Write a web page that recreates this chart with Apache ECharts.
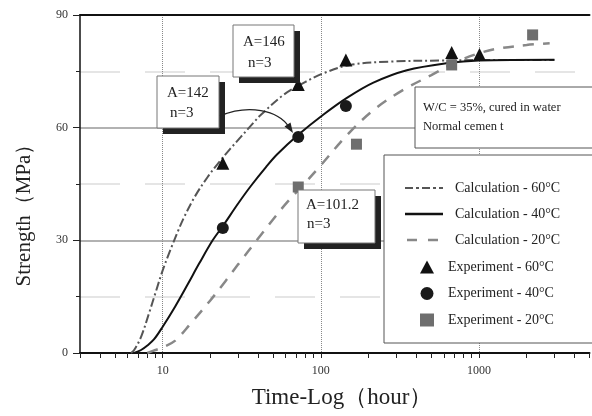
<!DOCTYPE html>
<html>
<head>
<meta charset="utf-8">
<script src="https://cdn.jsdelivr.net/npm/echarts@6/dist/echarts.min.js"></script>
<style>html,body{margin:0;padding:0;background:#fff}#c{width:592px;height:416px}</style>
</head>
<body>
<div id="c"></div>
<script>
// ---- data (time in hours, strength in MPa) ----
const calc60 = [[6.3,0],[6.6,0.8],[7.3,4.3],[8.2,10.6],[9,16],[10,22],[11.2,27.5],[12.4,32.1],[13.6,36],[16,41.7],[19.2,46.8],[23,51.1],[26.8,54.4],[31,57.4],[37.5,61.3],[41.5,63.3],[58,68.7],[80,72.2],[104,74.5],[153,76.7],[275,77.6],[630,77.9],[1000,78],[3000,78]];
const calc40 = [[6.6,0],[7.3,0.8],[8,2],[8.8,3.6],[10,7],[12,12.4],[14.4,18.3],[17,23.8],[20.7,30],[24,33.8],[30,39.8],[36,44.4],[45,49.5],[53,52.9],[72,58.1],[104,63.5],[147,68],[215,72],[350,75.3],[630,77.2],[1000,77.9],[3000,78.1]];
const calc20 = [[8,0],[9,0.8],[10,1.5],[12,3.3],[15,7.8],[20,14],[25,19.2],[30,23.6],[40,30.4],[50,35.6],[60,39.7],[80,45.4],[100,50],[150,58.5],[220,65],[330,70],[500,74],[720,77.5],[1000,79.8],[1300,81],[2000,82],[2800,82.5]];
const exp60 = [[24,50.5],[72,71.5],[144,78],[672,80],[1008,79.5]];
const exp40 = [[24,33.3],[72,57.5],[144,65.8]];
const exp20 = [[72,44.2],[168,55.6],[672,76.7],[2184,84.7]];
const xLabels = [10,100,1000];
const xTicks = [3,4,5,6,7,8,9,10,20,30,40,50,60,70,80,90,100,200,300,400,500,600,700,800,900,1000,2000,3000,4000,5000];
const calcNames = ['Calculation - 60°C','Calculation - 40°C','Calculation - 20°C'];
const expNames = ['Experiment - 60°C','Experiment - 40°C','Experiment - 20°C'];

const FONT = 'Liberation Serif';
const chart = echarts.init(document.getElementById('c'));

function box(x, y, w, h, l1, l2, tx, ty1, ty2, tx2) {
  return [
    {type:'rect', z:50, shape:{x:x+6, y:y+6, width:w, height:h}, style:{fill:'#222'}},
    {type:'rect', z:51, shape:{x:x, y:y, width:w, height:h}, style:{fill:'#fff', stroke:'#777', lineWidth:1}},
    {type:'text', z:52, x:tx, y:ty1, style:{text:l1, font:'15px "'+FONT+'"', fill:'#222', verticalAlign:'middle'}},
    {type:'text', z:52, x:tx2, y:ty2, style:{text:l2, font:'15px "'+FONT+'"', fill:'#222', verticalAlign:'middle'}}
  ];
}

const graphics = [].concat(
  box(233,25,61,52,'A=146','n=3',243,42,63,248),
  box(157,76,62,52,'A=142','n=3',167,93,113,170),
  box(298,190,77,53,'A=101.2','n=3',306,205,224,307),
  [
    {type:'bezierCurve', z:53, shape:{x1:220,y1:116,cpx1:248,cpy1:104,cpx2:278,cpy2:110,x2:289,y2:127}, style:{stroke:'#222', lineWidth:1.2, fill:null}},
    {type:'polygon', z:53, shape:{points:[[293,133],[284.5,126.5],[290.5,122.5]]}, style:{fill:'#222'}},
    {type:'rect', z:50, shape:{x:415, y:87, width:200, height:61}, style:{fill:'#fff', stroke:'#555', lineWidth:1}},
    {type:'text', z:52, x:423, y:108, style:{text:'W/C = 35%, cured in water', font:'12.5px "'+FONT+'"', fill:'#222', verticalAlign:'middle'}},
    {type:'text', z:52, x:423, y:127, style:{text:'Normal cemen t', font:'12.5px "'+FONT+'"', fill:'#222', verticalAlign:'middle'}},
    {type:'rect', z:40, shape:{x:384, y:155, width:230, height:188}, style:{fill:'#fff', stroke:'#555', lineWidth:1}},
    {type:'text', z:52, x:24, y:210, rotation:Math.PI/2, style:{text:'Strength（MPa）', font:'21px "'+FONT+'"', fill:'#222', align:'center', verticalAlign:'middle'}},
    {type:'text', z:52, x:342, y:398, style:{text:'Time-Log（hour）', font:'23px "'+FONT+'"', fill:'#222', align:'center', verticalAlign:'middle'}}
  ]
);

const legendText = {fontFamily: FONT, fontSize: 14, color: '#222'};
const option = {
  animation: false,
  backgroundColor: '#fff',
  grid: {left: 80, top: 15, right: 2.5, bottom: 63, containLabel: false},
  legend: [
    {
      orient: 'vertical', left: 405, top: 181, padding: 0, itemGap: 12, itemWidth: 38, itemHeight: 14,
      textStyle: Object.assign({padding: [0, 0, 0, 7]}, legendText), z: 60,
      data: [
        {name: calcNames[0], icon: 'path://M0,0h8v2h-8zM11,0h3v2h-3zM17,0h8v2h-8zM28,0h3v2h-3zM34,0h4v2h-4z'},
        {name: calcNames[1], icon: 'path://M0,0h38v2.4h-38z'},
        {name: calcNames[2], icon: 'path://M2,0h10v2.4h-10zM23,0h10v2.4h-10zM0,0h0.01v0.01h-0.01zM38,0h0.01v0.01h-0.01z'}
      ]
    },
    {
      orient: 'vertical', left: 420, top: 260, padding: 0, itemGap: 12.5, itemWidth: 14, itemHeight: 13,
      textStyle: Object.assign({padding: [0, 0, 0, 9]}, legendText), z: 60,
      data: [
        {name: expNames[0], icon: 'triangle'},
        {name: expNames[1], icon: 'circle'},
        {name: expNames[2], icon: 'rect'}
      ]
    }
  ],
  xAxis: [
    {
      type: 'log', logBase: 10, min: 3, max: 5000, position: 'bottom',
      axisLine: {show: true, onZero: false, lineStyle: {color: '#111', width: 2}},
      axisTick: {show: true, inside: false, length: 5, customValues: xTicks, lineStyle: {color: '#222', width: 1}},
      axisLabel: {customValues: xLabels, margin: 12, fontFamily: FONT, fontSize: 12, color: '#333',
        formatter: function (v) { return String(Math.round(v)); }},
      splitLine: {show: false}, minorTick: {show: false}
    },
    {
      type: 'log', logBase: 10, min: 3, max: 5000, position: 'top',
      axisLine: {show: true, onZero: false, lineStyle: {color: '#111', width: 2}},
      axisTick: {show: false, customValues: xLabels},
      axisLabel: {show: false},
      splitLine: {show: true, lineStyle: {color: '#888', width: 1, type: 'dotted'}}
    }
  ],
  yAxis: {
    type: 'value', min: 0, max: 90, interval: 30,
    axisLine: {show: true, onZero: false, lineStyle: {color: '#111', width: 1.5}},
    axisTick: {show: true, inside: false, length: 7, lineStyle: {color: '#222'}},
    minorTick: {show: true, splitNumber: 2, length: 4, lineStyle: {color: '#222'}},
    axisLabel: {margin: 12, fontFamily: FONT, fontSize: 12, color: '#333'},
    splitLine: {show: true, lineStyle: {color: '#999', width: 1.5}},
    minorSplitLine: {show: true, lineStyle: {color: '#ddd', width: 1.5, type: [40, 25]}}
  },
  graphic: graphics,
  series: [
    {name: calcNames[0], type: 'line', data: calc60, smooth: 0.35, symbol: 'none',
      lineStyle: {color: '#555', width: 2, type: [9, 3, 2, 3]}, itemStyle: {color: '#555'}, z: 3},
    {name: calcNames[1], type: 'line', data: calc40, smooth: 0.35, symbol: 'none',
      lineStyle: {color: '#111', width: 2}, itemStyle: {color: '#111'}, z: 3},
    {name: calcNames[2], type: 'line', data: calc20, smooth: 0.35, symbol: 'none',
      lineStyle: {color: '#888', width: 2.5, type: [11, 9]}, itemStyle: {color: '#888'}, z: 3},
    {name: expNames[0], type: 'scatter', data: exp60, symbol: 'triangle', symbolSize: 13,
      itemStyle: {color: '#111', opacity: 1}, z: 4},
    {name: expNames[1], type: 'scatter', data: exp40, symbol: 'circle', symbolSize: 12,
      itemStyle: {color: '#1a1a1a', opacity: 1}, z: 4},
    {name: expNames[2], type: 'scatter', data: exp20, symbol: 'rect', symbolSize: 11,
      itemStyle: {color: '#6e6e6e', opacity: 1}, z: 4}
  ]
};
chart.setOption(option);
</script>
</body>
</html>
